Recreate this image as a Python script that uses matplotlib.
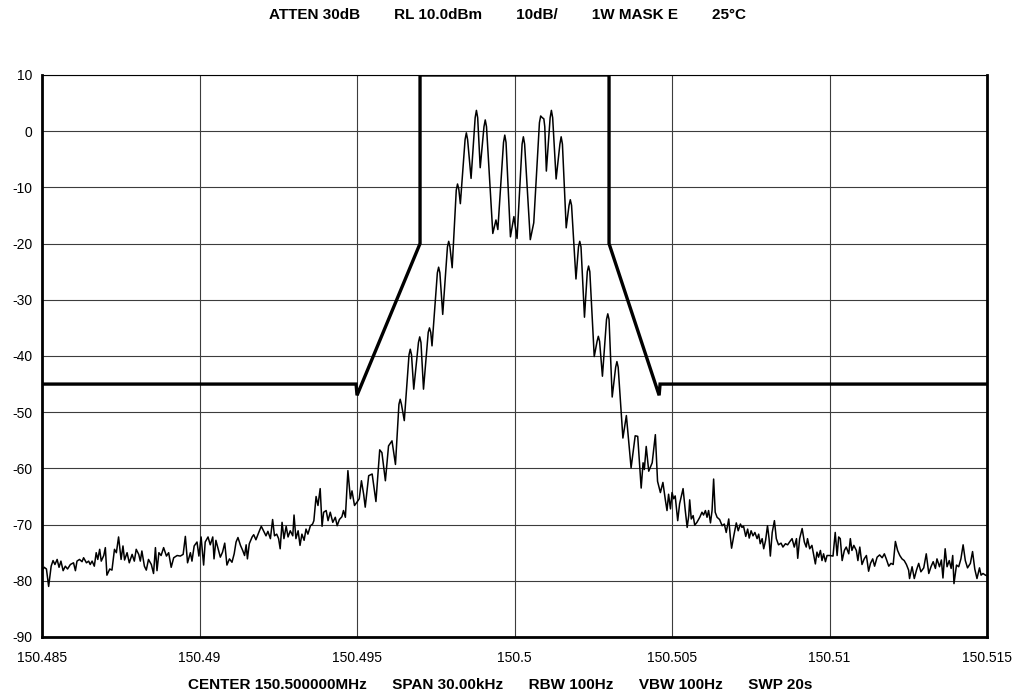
import matplotlib
matplotlib.use("Agg")
import matplotlib.pyplot as plt

plt.rcParams['font.family'] = ['Liberation Sans', 'DejaVu Sans']
plt.rcParams['axes.unicode_minus'] = False

CENTER_MHZ = 150.5
X_TICKS = [150.485, 150.49, 150.495, 150.5, 150.505, 150.51, 150.515]
X_LABELS = ["150.485", "150.49", "150.495", "150.5", "150.505", "150.51", "150.515"]
Y_TICKS = [10, 0, -10, -20, -30, -40, -50, -60, -70, -80, -90]

TITLE = "ATTEN 30dB" + " " * 8 + "RL 10.0dBm" + " " * 8 + "10dB/" + " " * 8 + \
    "1W MASK E" + " " * 8 + "25\u00b0C"
FOOTER = "CENTER 150.500000MHz" + " " * 6 + "SPAN 30.00kHz" + " " * 6 + "RBW 100Hz" + \
    " " * 6 + "VBW 100Hz" + " " * 6 + "SWP 20s"

# emission mask, (offset kHz, dBm)
MASK = [(-15.0, -45), (-5.03, -45), (-5.00, -47), (-3.0, -20), (-3.0, 10),
        (3.0, 10), (3.0, -20), (4.59, -47), (4.62, -45), (15.0, -45)]

# trace, (offset kHz, dBm)
LEFT_SKIRT = [
    (-15.00, -78.2), (-14.93, -77.6), (-14.86, -77.9), (-14.79, -81.0), (-14.71, -77.4),
    (-14.65, -76.4), (-14.59, -77.1), (-14.52, -76.2), (-14.46, -77.6), (-14.40, -76.5),
    (-14.33, -78.2), (-14.26, -77.4), (-14.19, -77.9), (-14.10, -77.1), (-14.00, -76.8),
    (-13.94, -78.2), (-13.89, -76.5), (-13.81, -76.2), (-13.73, -76.6), (-13.68, -75.9),
    (-13.59, -76.8), (-13.52, -76.5), (-13.47, -77.1), (-13.41, -76.5), (-13.34, -77.4),
    (-13.28, -75.0), (-13.23, -76.2), (-13.17, -74.4), (-13.12, -76.5), (-13.04, -75.5),
    (-12.99, -74.1), (-12.94, -79.0), (-12.85, -77.9), (-12.78, -78.1), (-12.70, -74.4),
    (-12.64, -75.0), (-12.57, -72.2), (-12.49, -76.2), (-12.43, -73.8), (-12.38, -76.3),
    (-12.30, -75.0), (-12.23, -76.8), (-12.14, -75.3), (-12.07, -76.5), (-12.01, -74.4),
    (-11.93, -75.3), (-11.88, -76.5), (-11.83, -74.7), (-11.75, -77.4), (-11.69, -78.1),
    (-11.62, -76.2), (-11.53, -77.1), (-11.46, -78.7), (-11.40, -74.1), (-11.35, -78.2),
    (-11.29, -75.0), (-11.22, -75.5), (-11.14, -74.1), (-11.05, -75.6), (-10.98, -75.0),
    (-10.90, -77.6), (-10.82, -75.9), (-10.71, -75.5), (-10.61, -75.6), (-10.52, -75.3),
    (-10.45, -72.1), (-10.38, -76.8), (-10.29, -75.0), (-10.24, -76.5), (-10.17, -73.8),
    (-10.08, -73.1), (-10.02, -75.6), (-9.95, -72.2), (-9.87, -77.2), (-9.82, -73.1),
    (-9.73, -72.2), (-9.66, -73.6), (-9.58, -72.2), (-9.54, -76.1), (-9.48, -72.8),
    (-9.41, -74.3), (-9.34, -75.8), (-9.27, -74.9), (-9.20, -73.3), (-9.13, -77.2),
    (-9.05, -76.1), (-8.97, -76.7), (-8.90, -75.2), (-8.84, -73.1), (-8.78, -72.3),
    (-8.70, -73.7), (-8.63, -74.6), (-8.57, -75.5), (-8.52, -73.6), (-8.48, -76.1),
    (-8.42, -73.4), (-8.33, -72.2), (-8.28, -71.8), (-8.21, -72.7), (-8.12, -71.4),
    (-8.04, -70.3), (-7.97, -71.1), (-7.89, -72.0), (-7.83, -71.2), (-7.75, -72.5),
    (-7.68, -69.1), (-7.62, -72.0), (-7.55, -71.7), (-7.49, -72.5), (-7.44, -74.3),
    (-7.38, -69.6), (-7.32, -72.5), (-7.25, -70.3), (-7.19, -72.2), (-7.12, -71.1),
    (-7.04, -72.0), (-7.00, -68.3), (-6.94, -72.5), (-6.87, -71.1), (-6.81, -73.7),
    (-6.75, -71.7), (-6.68, -72.8), (-6.62, -70.8), (-6.56, -71.7), (-6.48, -70.2),
    (-6.41, -69.9), (-6.37, -69.3), (-6.30, -65.0), (-6.24, -66.6), (-6.17, -63.6),
    (-6.11, -70.3), (-6.06, -67.8), (-5.98, -67.5), (-5.92, -69.3), (-5.85, -67.8),
    (-5.77, -69.6), (-5.69, -68.7), (-5.63, -70.2), (-5.56, -69.1), (-5.48, -68.6),
    (-5.43, -67.5), (-5.37, -68.7), (-5.29, -60.4), (-5.21, -65.4), (-5.16, -64.0),
    (-5.08, -66.6), (-5.00, -66.0), (-4.93, -65.4), (-4.86, -62.2), (-4.79, -64.6),
    (-4.74, -66.9), (-4.63, -61.3), (-4.52, -61.0), (-4.40, -65.9), (-4.28, -56.7),
    (-4.21, -57.2), (-4.10, -62.2), (-4.00, -56.0), (-3.89, -55.1), (-3.78, -59.3),
    (-3.67, -48.6), (-3.63, -47.7), (-3.59, -48.6), (-3.50, -51.5), (-3.35, -39.8),
    (-3.31, -38.8), (-3.27, -39.8), (-3.20, -45.9), (-3.05, -37.6), (-3.01, -36.6),
    (-2.97, -37.6), (-2.89, -45.9), (-2.74, -35.8), (-2.70, -35.0), (-2.66, -35.8),
    (-2.62, -38.2),
]

MAIN_LOBE = [
    (-2.45, -25.2), (-2.41, -24.2), (-2.37, -25.2), (-2.28, -32.6), (-2.13, -20.6),
    (-2.09, -19.6), (-2.05, -20.6), (-1.98, -24.3), (-1.85, -10.5), (-1.81, -9.4),
    (-1.77, -10.3), (-1.72, -12.9), (-1.57, -1.5), (-1.53, -0.3), (-1.49, -1.5),
    (-1.38, -8.4), (-1.25, 2.4), (-1.21, 3.7), (-1.17, 2.4), (-1.09, -6.5),
    (-0.97, 0.8), (-0.93, 2.0), (-0.89, 0.8), (-0.69, -18.2), (-0.59, -15.8),
    (-0.53, -17.5), (-0.35, -2.0), (-0.31, -0.7), (-0.27, -2.0), (-0.13, -18.8),
    (-0.02, -15.2), (0.08, -19.1), (0.24, -2.3), (0.28, -1.0), (0.32, -2.3),
    (0.50, -19.3), (0.61, -16.3), (0.79, 1.5), (0.83, 2.7), (0.88, 2.4),
    (0.93, 2.2), (0.96, 0.8), (1.01, -7.1), (1.13, 2.4), (1.17, 3.7),
    (1.21, 2.4), (1.32, -8.5), (1.44, -2.3), (1.48, -1.0), (1.52, -2.3),
    (1.64, -17.2), (1.73, -13.2), (1.77, -12.2), (1.81, -13.2), (1.95, -26.3),
    (2.03, -20.6), (2.07, -19.6), (2.11, -20.6), (2.22, -33.1), (2.31, -25.0),
    (2.35, -24.0), (2.39, -25.0), (2.53, -40.1), (2.62, -37.4), (2.66, -36.5),
    (2.70, -37.4), (2.79, -43.6), (2.92, -33.5), (2.96, -32.5), (3.00, -33.5),
    (3.10, -47.3), (3.21, -42.0), (3.25, -41.0), (3.29, -42.0), (3.44, -54.6),
    (3.55, -50.6), (3.70, -59.9), (3.83, -54.2), (3.91, -54.3), (4.02, -63.5),
    (4.08, -59.0), (4.12, -60.2), (4.18, -56.1), (4.26, -60.5), (4.37, -59.0),
    (4.47, -54.0), (4.54, -62.3),
]

RIGHT_SKIRT = [
    (4.63, -64.3), (4.71, -62.5), (4.79, -65.7), (4.84, -67.5), (4.89, -64.6),
    (4.95, -67.2), (5.00, -64.3), (5.05, -65.4), (5.10, -64.9), (5.18, -69.3),
    (5.24, -66.3), (5.29, -65.1), (5.35, -63.6), (5.42, -67.5), (5.48, -70.5),
    (5.53, -68.4), (5.56, -65.6), (5.61, -69.0), (5.67, -68.4), (5.72, -70.1),
    (5.79, -69.6), (5.88, -68.7), (5.95, -67.8), (6.00, -68.3), (6.06, -67.5),
    (6.11, -68.7), (6.16, -67.5), (6.22, -69.7), (6.27, -67.5), (6.32, -61.9),
    (6.37, -67.8), (6.43, -68.7), (6.51, -69.1), (6.59, -70.2), (6.66, -69.9),
    (6.72, -71.4), (6.80, -69.0), (6.85, -72.2), (6.89, -74.2), (6.96, -72.0),
    (7.04, -69.7), (7.10, -71.1), (7.17, -69.9), (7.22, -70.5), (7.27, -70.3),
    (7.34, -72.1), (7.40, -70.8), (7.45, -72.4), (7.51, -71.1), (7.57, -72.0),
    (7.63, -71.4), (7.70, -72.5), (7.75, -71.7), (7.80, -73.4), (7.86, -72.5),
    (7.91, -74.3), (7.97, -72.8), (8.03, -70.2), (8.08, -72.5), (8.12, -75.6),
    (8.18, -71.4), (8.25, -69.3), (8.31, -72.5), (8.38, -73.6), (8.46, -73.3),
    (8.52, -74.0), (8.60, -73.4), (8.67, -73.6), (8.73, -73.1), (8.81, -72.5),
    (8.88, -74.0), (8.95, -72.5), (8.99, -76.0), (9.05, -72.5), (9.13, -70.7),
    (9.20, -73.1), (9.26, -74.0), (9.30, -72.5), (9.37, -74.3), (9.44, -73.7),
    (9.50, -75.5), (9.55, -77.0), (9.60, -74.9), (9.65, -75.8), (9.71, -74.6),
    (9.76, -76.4), (9.81, -75.2), (9.87, -76.6), (9.92, -75.5), (10.00, -75.5),
    (10.11, -75.6), (10.18, -71.4), (10.24, -75.5), (10.29, -72.2), (10.34, -72.5),
    (10.40, -76.4), (10.47, -74.6), (10.53, -74.0), (10.61, -75.2), (10.66, -72.5),
    (10.71, -74.6), (10.77, -73.7), (10.85, -74.6), (10.90, -76.4), (10.96, -74.0),
    (11.03, -77.1), (11.10, -76.1), (11.17, -75.5), (11.24, -78.3), (11.30, -76.9),
    (11.37, -76.1), (11.43, -77.4), (11.51, -75.8), (11.59, -75.4), (11.67, -75.9),
    (11.74, -75.2), (11.80, -76.1), (11.88, -77.4), (11.95, -76.9), (12.02, -77.1),
    (12.09, -73.0), (12.16, -74.6), (12.23, -75.5), (12.30, -76.1), (12.37, -76.4),
    (12.44, -77.1), (12.51, -78.1), (12.54, -79.6), (12.62, -77.5), (12.69, -79.6),
    (12.76, -78.1), (12.83, -76.9), (12.90, -78.4), (12.99, -77.7), (13.07, -75.2),
    (13.15, -78.7), (13.22, -77.5), (13.29, -76.6), (13.36, -77.8), (13.41, -76.1),
    (13.49, -77.5), (13.55, -76.3), (13.60, -79.5), (13.67, -74.3), (13.73, -77.5),
    (13.80, -76.4), (13.86, -77.8), (13.91, -75.5), (13.95, -80.5), (14.03, -77.2),
    (14.10, -77.5), (14.17, -76.1), (14.24, -73.6), (14.31, -76.4), (14.38, -77.7),
    (14.47, -76.9), (14.54, -74.8), (14.61, -77.9), (14.68, -79.6), (14.76, -77.7),
    (14.81, -79.0), (14.87, -78.7), (14.95, -79.0), (15.00, -79.1),
]


def to_mhz(points):
    return [CENTER_MHZ + k / 1000.0 for k, _ in points], [v for _, v in points]


def main():
    fig = plt.figure(figsize=(10.2, 6.98), dpi=100)
    ax = fig.add_axes([0.0412, 0.0874, 0.9265, 0.8052])

    trace = LEFT_SKIRT + MAIN_LOBE + RIGHT_SKIRT
    tx, ty = to_mhz(trace)
    mx, my = to_mhz(MASK)

    ax.plot(tx, ty, color='black', lw=1.1, zorder=3)
    ax.plot(mx, my, color='black', lw=2.4, solid_joinstyle='miter', zorder=4)

    ax.set_xlim(X_TICKS[0], X_TICKS[-1])
    ax.set_ylim(-90, 10)
    ax.set_xticks(X_TICKS)
    ax.set_xticklabels(X_LABELS)
    ax.set_yticks(Y_TICKS)
    ax.tick_params(axis='x', length=0, labelsize=10, pad=10)
    ax.tick_params(axis='y', length=0, labelsize=10, pad=7)
    ax.grid(True, color='#3c3c3c', lw=0.8)
    ax.set_axisbelow(True)

    for side in ['left', 'bottom', 'right']:
        ax.spines[side].set_linewidth(2.0)
    ax.spines['top'].set_linewidth(0.8)

    fig.text(0.498, 0.978, TITLE, ha='center', va='center', fontsize=11,
             fontweight='bold')
    fig.text(0.49, 0.018, FOOTER, ha='center', va='center', fontsize=11,
             fontweight='bold')

    fig.savefig("out.png", dpi=100)


if __name__ == "__main__":
    main()
